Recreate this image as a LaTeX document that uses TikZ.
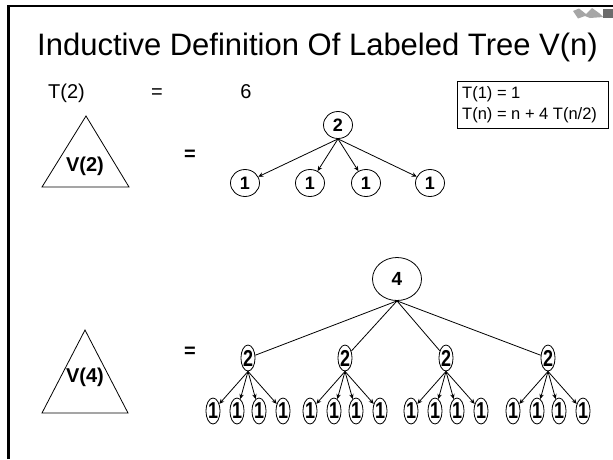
\documentclass[tikz,border=0pt]{standalone}
\usepackage{fontspec}
\setmainfont{Liberation Sans}
\usetikzlibrary{shapes.geometric,arrows.meta}
\newcommand\narrowlab[1]{\scalebox{0.78}[1]{\fontsize{23}{23}\selectfont\bfseries #1}}
\begin{document}
\begin{tikzpicture}[x=1pt,y=-1pt,
  edge/.style={line width=0.8pt},
  arr/.style={edge,-{Stealth[length=5pt,width=4.5pt]}},
  bignode/.style={draw,ellipse,line width=0.8pt,inner sep=0pt,minimum width=29pt,minimum height=27pt,font=\fontsize{18}{18}\selectfont\bfseries},
  rootnode/.style={draw,ellipse,line width=0.8pt,inner sep=0pt,minimum width=49pt,minimum height=43pt,font=\fontsize{19}{19}\selectfont\bfseries},
  smallnode/.style={draw,ellipse,line width=0.8pt,inner sep=0pt,minimum width=13pt,minimum height=26pt},
  slidetext/.style={inner sep=0pt,font=\fontsize{20}{20}\selectfont},
  boldtext/.style={inner sep=0pt,font=\fontsize{20}{20}\selectfont\bfseries},
  tri/.style={line width=0.8pt}
]
\useasboundingbox (0,0) rectangle (613,459);
\fill[white] (0,0) rectangle (613,459);
% slide frame
\draw[line width=2.5pt] (8.7,459) -- (8.7,6.2) -- (613,6.2);
% logo
\fill[gray!70] (573,11) -- (579,8.5) -- (586,14) -- (592,8) -- (599,13) -- (603,17) -- (590,18) -- (585,16) -- (578,18.5) -- cycle;
\fill[gray!85!black] (603,9) rectangle (613,18);
% title
\node[inner sep=0pt,anchor=base west,font=\fontsize{31}{31}\selectfont] (title) at (37,55) {Inductive Definition Of Labeled Tree V(n)};
% T(2) = 6
\node[slidetext,anchor=base west] (t2) at (48,98) {T(2)};
\node[slidetext,anchor=base] (eqa) at (157,98) {=};
\node[slidetext,anchor=base] (six) at (246,98) {6};
% recurrence box
\draw[line width=0.8pt] (457,81) rectangle (608,128);
\node[inner sep=0pt,anchor=base west,font=\fontsize{16.5}{16.5}\selectfont] (rec1) at (462,98) {T(1) = 1};
\node[inner sep=0pt,anchor=base west,font=\fontsize{16.5}{16.5}\selectfont] (rec2) at (462,119) {T(n) = n + 4 T(n/2)};
% V(2)
\draw[tri] (86,116) -- (42,187) -- (129,187) -- cycle;
\node[boldtext] (v2) at (85,166) {V(2)};
\node[boldtext] (eqb) at (190,155) {=};
\node[bignode] (r2) at (338,125) {2};
\foreach \i/\x in {1/245,2/310,3/366,4/430} {
  \node[bignode] (c\i) at (\x,183) {1};
  \draw[arr] (r2.south) -- (c\i);
}
% V(4)
\draw[tri] (85,330) -- (42,413) -- (128,413) -- cycle;
\node[boldtext] (v4) at (85,377) {V(4)};
\node[boldtext] (eqc) at (190,352) {=};
\node[rootnode] (r4) at (397,279) {4};
\foreach \i/\x in {1/248,2/345,3/446,4/548} {
  \node[smallnode] (m\i) at (\x,358) {\narrowlab{2}};
  \draw[edge] (r4.south) -- (m\i);
  \foreach \j/\dx in {1/-35,2/-11,3/11,4/35} {
    \node[smallnode] (l\i\j) at (\x+\dx,411) {\narrowlab{1}};
    \draw[arr] (m\i.south) -- (l\i\j);
  }
}
\end{tikzpicture}
\end{document}
